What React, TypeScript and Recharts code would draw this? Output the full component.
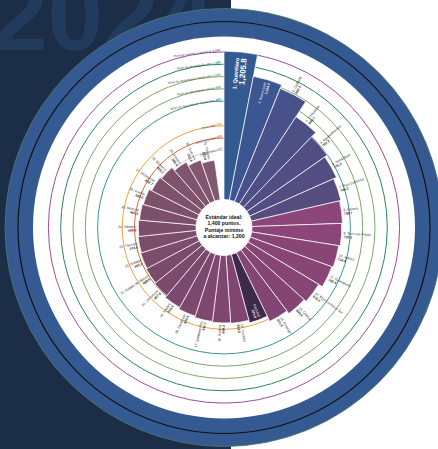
import React from "react";
import { RadialBarChart, RadialBar, PolarAngleAxis, PolarRadiusAxis, PolarGrid, Sector } from "recharts";

// ranking, clockwise from 12 o'clock
const states = [
  "Querétaro", "Nuevo León", "Coahuila", "Chihuahua", "Aguascalientes", "Tamaulipas",
  "Baja California", "Sonora", "San Luis Potosí", "Jalisco", "Guanajuato", "Baja California Sur",
  "Colima", "Durango", "Nacional", "Yucatán", "Sinaloa", "Quintana Roo", "Zacatecas", "Nayarit",
  "Campeche", "Estado de México", "Hidalgo", "Tlaxcala", "Tabasco", "Morelos", "Puebla",
  "Michoacán", "Veracruz", "Oaxaca", "Guerrero", "Chiapas",
];
const scores = [
  1205.8, 1024.3, 992.1, 846.7, 797.2, 773.3, 748.2, 736.7, 729.5, 716.8, 705.4, 670.2,
  648.9, 621.5, 575.0, 553.6, 548.2, 541.7, 530.4, 515.3, 497.8, 488.6, 481.2, 474.5,
  468.9, 462.3, 455.0, 432.7, 418.1, 386.4, 352.6, 325.0,
];
const barColors = [
  "#345a92", "#3b5690", "#48518a", "#4d4f85", "#504e83", "#534d81", "#564c80", "#8c4679",
  "#8b4578", "#8a4577", "#894576", "#874575", "#854574", "#834573", "#3d2949", "#804571",
  "#7f4670", "#7e476f", "#7d486e", "#7c496e", "#7b4a6d", "#7b4b6c", "#7b4c6c", "#7b4d6b",
  "#7c4e6b", "#7c4f6b", "#7d506b", "#7e516c", "#7f536c", "#80546d", "#81566e", "#82586f",
];

// reference rings
const ringValues = [1200, 1100, 1000, 900, 800, 600, 500, 400];
const ringColors = ["#8e3a8e", "#11774a", "#6fa24f", "#6f9a5c", "#1f8a88", "#f0a040", "#e0673a", "#9a9a9a"];
const ringNames = [
  "Puntaje mínimo a alcanzar",
  "Nivel de desempeño alto",
  "Nivel de desempeño medio alto",
  "Nivel de desempeño medio",
  "Nivel de desempeño medio bajo",
  "Nivel bajo",
  "Nivel muy bajo",
  "Nivel crítico",
];

const data = states.map((name, i) => ({ name, score: scores[i] }));

const W = 438;
const H = 449;
const CX = 224;
const CY = 227.5;
const R0 = 28;
const R1 = 200.2;
const MAX = 1400;
const toRadius = (v: number) => R0 + (v / MAX) * (R1 - R0);
const RAD = Math.PI / 180;
const polar = (cx: number, cy: number, r: number, a: number) => ({
  x: cx + r * Math.cos(-a * RAD),
  y: cy + r * Math.sin(-a * RAD),
});
const fmt = (v: number) => v.toLocaleString("en-US", { minimumFractionDigits: 1, maximumFractionDigits: 1 });
const FONT = "'Liberation Sans Narrow', 'Liberation Sans', Arial, sans-serif";

function rankOf(i: number) {
  const nat = states.indexOf("Nacional");
  if (i === nat) return "";
  return `${i < nat ? i + 1 : i}. `;
}

function BarShape(props: any) {
  const { cx, cy, innerRadius, outerRadius, startAngle, endAngle } = props;
  const entry = props.payload ?? props;
  const i = states.indexOf(entry.name);
  const mid = (startAngle + endAngle) / 2;
  const m = ((mid % 360) + 360) % 360;
  const right = m <= 90 || m >= 270;
  const label = `${rankOf(i)}${entry.name}`;
  const val = fmt(entry.score);
  let text: React.ReactNode;
  if (i === 0) {
    const p = polar(cx, cy, outerRadius - 6, mid);
    text = (
      <text transform={`translate(${p.x},${p.y}) rotate(${-mid})`} textAnchor="end" fill="#fff" fontFamily={FONT} fontWeight={700}>
        <tspan x={0} dy={-1} fontSize={5.4}>{label}</tspan>
        <tspan x={0} dy={7.5} fontSize={8}>{val}</tspan>
      </text>
    );
  } else if (i === 1 || entry.name === "Nacional") {
    const p = polar(cx, cy, outerRadius - 3, mid);
    text = (
      <text transform={`translate(${p.x},${p.y}) rotate(${right ? -mid : 180 - mid})`} textAnchor={right ? "end" : "start"} fill="#fff" fontFamily={FONT} fontSize={3.4}>
        <tspan x={0} dy={-0.5}>{label}</tspan>
        <tspan x={0} dy={3.8} fontWeight={700}>{val}</tspan>
      </text>
    );
  } else {
    const p = polar(cx, cy, outerRadius + 2, mid);
    text = (
      <text transform={`translate(${p.x},${p.y}) rotate(${right ? -mid : 180 - mid})`} textAnchor={right ? "start" : "end"} fill="#2b2b2b" fontFamily={FONT} fontSize={3.4}>
        <tspan x={0} dy={-0.5}>{label}</tspan>
        <tspan x={0} dy={3.8} fontWeight={700}>{val}</tspan>
      </text>
    );
  }
  return (
    <g>
      <Sector cx={cx} cy={cy} innerRadius={innerRadius} outerRadius={outerRadius} startAngle={startAngle} endAngle={endAngle} fill={barColors[i]} stroke="#fff" strokeWidth={0.7} />
      {text}
    </g>
  );
}

function RingLabels() {
  return (
    <g>
      {ringValues.map((v, k) => {
        const r = toRadius(v);
        const p = polar(CX, CY, r + 1, 91.2);
        const rot = -((24 / r) / RAD);
        return (
          <text key={v} transform={`translate(${p.x},${p.y}) rotate(${rot})`} textAnchor="end" fontFamily={FONT} fontSize={3.2} fill="#444">
            {ringNames[k]}{" "}
            <tspan fill={ringColors[k]} fontWeight={700}>{v.toLocaleString("en-US")}</tspan>
          </text>
        );
      })}
    </g>
  );
}

export default function App() {
  return (
    <div style={{ position: "absolute", left: 0, top: 0, width: W, height: H, overflow: "hidden", background: "#fff" }}>
      <svg width={W} height={H} style={{ position: "absolute", left: 0, top: 0 }}>
        <rect x={0} y={0} width={231} height={H} fill="#1b2d47" />
        <text x={-8} y={50} fontFamily="'Liberation Sans', Arial, sans-serif" fontWeight={700} fontSize={100} fill="#223a5c">2024</text>
        <circle cx={CX} cy={CY} r={219} fill="#355a92" stroke="#4d7a62" strokeWidth={0.8} />
        <circle cx={CX} cy={CY} r={206} fill="none" stroke="#111" strokeWidth={1.2} />
        <circle cx={CX} cy={CY} r={191} fill="#fff" />
      </svg>
      <div style={{ position: "absolute", left: 0, top: 0 }}>
        <RadialBarChart
          width={W}
          height={H}
          data={data}
          cx={CX}
          cy={CY}
          innerRadius={R0}
          outerRadius={R1}
          startAngle={79}
          endAngle={-273}
          layout="centric"
          barCategoryGap={0}
          margin={{ top: 0, right: 0, bottom: 0, left: 0 }}
        >
          {ringValues.map((v, k) => (
            <PolarGrid
              key={v}
              gridType="circle"
              radialLines={false}
              polarAngles={[]}
              polarRadius={[toRadius(v)]}
              stroke={ringColors[k]}
              strokeWidth={k < 5 ? 0.9 : 1}
              strokeDasharray={k === 7 ? "1.2 1.2" : undefined}
            />
          ))}
          <PolarAngleAxis type="category" dataKey="name" tick={false} axisLine={false} tickLine={false} />
          <PolarRadiusAxis type="number" domain={[0, MAX]} tick={false} axisLine={false} tickLine={false} />
          <RadialBar dataKey="score" isAnimationActive={false} shape={BarShape} />
        </RadialBarChart>
      </div>
      <svg width={W} height={H} style={{ position: "absolute", left: 0, top: 0, pointerEvents: "none" }}>
        <RingLabels />
        <circle cx={CX} cy={CY} r={27} fill="#fff" />
        <text x={CX} y={CY - 9} textAnchor="middle" fontFamily={FONT} fontWeight={700} fontSize={5.2} fill="#111">
          <tspan x={CX} dy={0}>Estándar ideal:</tspan>
          <tspan x={CX} dy={6.6}>1,400 puntos.</tspan>
          <tspan x={CX} dy={6.6}>Puntaje mínimo</tspan>
          <tspan x={CX} dy={6.6}>a alcanzar: 1,200</tspan>
        </text>
      </svg>
    </div>
  );
}
